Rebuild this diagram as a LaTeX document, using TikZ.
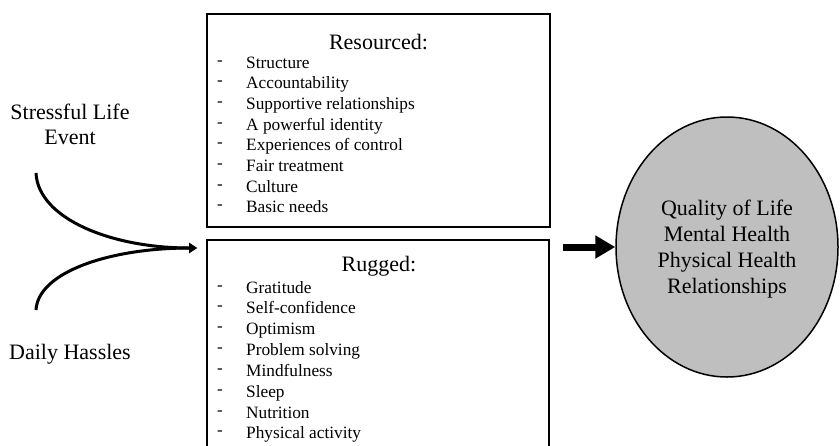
\documentclass[tikz,border=0pt]{standalone}
\usepackage{fontspec}
\setmainfont{Liberation Serif}
\usetikzlibrary{arrows.meta,shapes.geometric}
\definecolor{ellgray}{RGB}{191,191,191}
\begin{document}
\begin{tikzpicture}[x=1pt,y=-1pt,
  box/.style={draw,line width=1.8pt,inner sep=0pt},
  itemtxt/.style={anchor=base west,inner sep=0pt,font=\fontsize{17.3}{20}\selectfont},
  dashtxt/.style={anchor=base,inner sep=0pt,font=\fontsize{17}{20}\selectfont},
  boxtitle/.style={anchor=center,inner sep=0pt,font=\fontsize{22}{26}\selectfont},
  lbl/.style={align=center,inner sep=0pt,font=\fontsize{22}{25}\selectfont},
  flow/.style={line width=3pt,-{Triangle[length=8pt,width=10pt]}},
]
\useasboundingbox (0,0) rectangle (840,445);
\clip (0,0) rectangle (840,445);
\fill[white] (0,0) rectangle (840,445);

% boxes
\node[box,minimum width=343pt,minimum height=213pt] (res) at (378.5,120.5) {};
\node[box,minimum width=342pt,minimum height=240pt] (rug) at (378,360) {};

\node[boxtitle] (rest) at (378.5,42) {Resourced:};
\node[boxtitle] (rugt) at (379,266) {Rugged:};

\foreach \t [count=\i from 0] in {Structure,Accountability,Supportive relationships,A powerful identity,Experiences of control,Fair treatment,Culture,Basic needs}{
  \node[dashtxt] (rd\i) at (220,{65+20.7*\i}) {-};
  \node[itemtxt] (r\i) at (246,{68+20.7*\i}) {\t};
}
\foreach \t [count=\i from 0] in {Gratitude,Self-confidence,Optimism,Problem solving,Mindfulness,Sleep,Nutrition,Physical activity}{
  \node[dashtxt] (gd\i) at (220,{290+20.85*\i}) {-};
  \node[itemtxt] (g\i) at (246,{293+20.85*\i}) {\t};
}

% outcome ellipse
\node[ellipse,draw,line width=1.5pt,fill=ellgray,minimum width=222pt,minimum height=260pt,inner sep=0pt] (out) at (727,247) {};
\node[lbl,font=\fontsize{22}{26}\selectfont] (outt) at (727,249) {Quality of Life\\Mental Health\\Physical Health\\Relationships};

% left labels
\node[lbl] (sle) at (70,124) {Stressful Life\\Event};
\node[lbl] (dh) at (70,354) {Daily Hassles};

% curves
\coordinate (tip) at (197,248);
\coordinate (s1) at (36,173);
\coordinate (s2) at (36,310);
\draw[flow] (s1) .. controls (38,218) and (110,248) .. (tip);
\draw[flow] (s2) .. controls (38,272) and (110,248) .. (tip);

% big arrow
\coordinate (a0) at (563,247);
\draw[line width=7pt,-{Triangle[length=20pt,width=22pt]}] (a0) -- (out.west);
\end{tikzpicture}
\end{document}
